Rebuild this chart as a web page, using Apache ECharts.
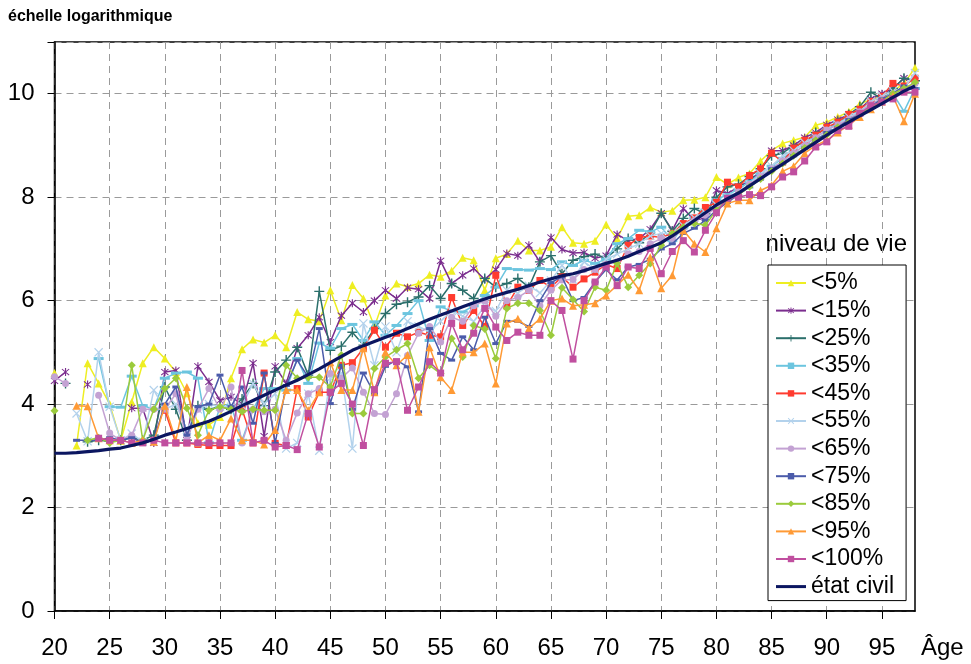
<!DOCTYPE html>
<html>
<head>
<meta charset="utf-8">
<script src="https://cdn.jsdelivr.net/npm/echarts@6/dist/echarts.min.js"></script>
<style>html,body{margin:0;padding:0;background:#fff}#c{width:971px;height:664px}</style>
</head>
<body>
<div id="c"></div>
<script>
const ages = [20,21,22,23,24,25,26,27,28,29,30,31,32,33,34,35,36,37,38,39,40,41,42,43,44,45,46,47,48,49,50,51,52,53,54,55,56,57,58,59,60,61,62,63,64,65,66,67,68,69,70,71,72,73,74,75,76,77,78,79,80,81,82,83,84,85,86,87,88,89,90,91,92,93,94,95,96,97,98];
const yTickLabels = [0,2,4,6,8,10];
const seriesNames = ['<5%','<15%','<25%','<35%','<45%','<55%','<65%','<75%','<85%','<95%','<100%','état civil'];

const p5 = [4.6,null,3.2,4.79,4.4,4.0,3.29,4.04,4.79,5.1,4.88,4.62,4.21,3.63,3.6,3.75,4.5,5.06,5.25,5.19,5.33,5.1,5.78,5.64,5.6,6.2,5.62,6.3,6.04,5.5,6.1,6.33,6.27,6.33,6.5,6.46,6.58,6.83,6.78,6.2,6.82,6.9,7.16,6.97,6.97,7.04,7.42,7.12,7.1,7.16,7.47,7.2,7.63,7.65,7.8,7.71,7.74,7.94,7.95,8.0,8.39,8.25,8.38,8.46,8.7,8.9,9.04,9.1,9.16,9.39,9.45,9.55,9.65,9.8,9.89,9.95,10.05,10.2,10.5];
const p15 = [4.45,4.62,null,4.38,null,null,null,3.92,3.92,3.25,4.62,4.65,3.3,4.73,4.43,4.07,4.14,4.0,4.79,3.38,4.73,4.4,5.08,5.33,5.68,5.2,5.71,5.95,5.78,6.0,6.2,6.04,6.25,6.22,6.04,6.77,6.33,6.49,6.62,6.41,6.6,6.91,6.87,7.07,6.75,7.22,6.99,6.92,6.93,6.82,6.87,7.28,7.16,7.2,7.38,7.69,7.36,7.78,7.55,7.6,8.13,8.07,8.2,8.32,8.5,8.9,8.9,9.0,9.15,9.25,9.4,9.5,9.6,9.7,9.9,10.0,10.1,10.3,10.25];
const p25 = [null,4.4,null,3.27,3.3,3.28,3.3,3.35,3.3,3.4,4.33,3.9,3.3,3.97,3.9,3.95,3.9,4.1,4.4,3.97,4.62,4.85,5.1,4.56,6.18,5.04,5.12,5.39,5.14,5.46,5.75,5.93,5.97,6.07,6.29,6.04,6.33,6.2,6.04,6.43,6.26,6.33,6.43,6.26,6.75,6.87,6.52,6.78,6.85,6.9,6.82,7.0,7.2,7.12,7.31,7.69,7.34,7.59,7.78,7.68,8.0,8.2,8.25,8.4,8.55,8.8,8.85,9.0,9.05,9.25,9.3,9.45,9.6,9.75,10.03,9.9,10.1,10.3,10.25];
const p35 = [null,null,null,null,4.88,3.95,3.94,4.54,3.97,3.9,4.5,4.6,4.62,4.5,3.25,3.95,3.97,3.3,3.9,4.3,4.3,4.27,4.88,4.4,5.18,5.08,5.46,5.54,5.23,5.59,5.33,5.52,5.75,6.0,5.23,5.88,5.8,5.78,5.9,6.1,6.26,6.62,6.6,6.59,6.62,6.6,6.75,6.68,6.78,6.72,6.8,7.1,7.2,7.36,7.33,7.42,7.16,7.42,7.6,7.75,7.95,8.05,8.15,8.3,8.45,8.6,8.75,8.9,9.05,9.15,9.3,9.45,9.55,9.65,9.8,9.9,10.0,9.66,10.1];
const p45 = [null,null,null,null,null,null,null,null,null,null,3.88,3.25,3.25,3.22,3.2,3.2,3.2,3.9,3.25,4.6,3.24,3.2,4.3,3.75,4.23,4.23,4.75,4.8,5.08,5.43,5.1,5.37,5.3,5.39,5.33,5.3,6.06,5.52,5.81,5.5,6.49,5.9,6.26,6.2,6.39,6.26,6.46,6.26,6.42,6.55,6.7,6.62,7.07,7.22,7.25,7.22,7.3,7.49,7.6,7.8,7.9,8.29,8.2,8.42,8.55,8.85,8.68,8.95,9.1,9.2,9.35,9.45,9.6,9.7,9.85,9.95,10.2,10.15,10.3];
const p55 = [null,null,3.82,3.28,5.0,3.95,3.3,3.43,3.27,4.27,3.9,4.0,3.5,3.9,4.0,3.95,3.95,3.97,4.4,4.0,4.2,3.14,3.25,4.2,3.1,4.5,4.6,3.14,5.56,4.75,5.5,5.0,5.6,5.5,5.4,5.6,5.8,5.7,5.6,5.9,5.8,6.2,6.15,6.29,6.15,6.39,6.68,6.4,6.75,6.6,6.8,6.9,7.0,7.1,7.25,7.3,7.3,7.45,7.6,7.7,7.85,8.0,8.1,8.25,8.45,8.6,8.8,8.9,9.05,9.15,9.3,9.4,9.55,9.65,9.85,9.95,10.05,10.1,10.4];
const p65 = [4.53,4.4,null,null,4.17,3.44,3.3,3.4,3.9,3.9,3.9,4.2,3.3,3.9,4.3,3.9,4.33,3.25,3.9,3.85,3.9,3.3,3.83,4.2,4.3,4.59,4.5,4.7,4.23,3.82,3.8,4.2,4.94,5.37,5.5,5.2,5.68,5.6,5.9,6.0,5.7,6.0,6.06,6.2,5.9,6.2,6.4,6.41,6.6,6.6,6.7,6.75,6.9,6.95,7.1,7.2,7.2,7.4,7.55,7.65,7.8,7.95,8.1,8.25,8.4,8.55,8.7,8.85,9.0,9.15,9.3,9.4,9.5,9.65,9.8,9.9,10.0,10.1,10.2];
const p75 = [null,null,3.3,3.3,3.3,3.35,3.3,3.35,3.25,3.3,4.0,4.33,3.4,3.95,4.0,4.56,3.95,4.33,3.63,4.6,3.24,4.36,4.85,4.52,5.46,4.01,4.75,3.9,4.6,4.2,4.73,4.85,4.72,3.85,5.46,4.98,4.85,5.3,5.05,5.68,5.17,5.6,5.6,5.5,6.0,6.35,6.46,6.0,6.06,6.36,6.6,6.4,6.65,6.7,6.8,7.0,7.1,7.3,7.4,7.55,7.75,7.9,8.05,8.2,8.35,8.55,8.65,8.8,8.95,9.1,9.25,9.35,9.5,9.6,9.75,9.9,10.0,10.15,10.1];
const p85 = [3.87,null,null,3.3,3.35,3.25,3.3,4.75,3.3,3.9,4.3,4.5,3.92,3.4,3.88,3.95,3.9,3.85,3.9,3.88,3.88,4.75,4.5,4.52,4.52,4.33,4.95,3.82,3.82,4.69,4.91,5.05,5.17,4.5,4.75,4.59,5.27,4.91,5.52,5.45,4.88,5.85,5.95,5.95,5.81,5.33,6.25,6.02,5.79,6.26,6.2,6.72,6.26,6.49,6.72,7.07,7.3,7.42,7.49,7.46,7.75,7.95,8.05,8.2,8.35,8.5,8.65,8.8,8.95,9.1,9.2,9.35,9.45,9.6,9.75,9.85,10.0,10.1,10.22];
const p95 = [null,null,3.97,3.96,3.34,3.3,3.3,3.25,3.3,3.27,3.97,3.3,4.33,3.25,3.4,3.3,3.72,3.3,3.3,3.22,3.5,4.27,4.27,3.88,4.23,4.81,4.27,4.27,5.08,4.23,5.0,4.75,4.95,3.85,5.1,4.52,4.27,5.0,5.0,5.17,4.4,5.56,5.65,5.46,5.65,6.0,6.04,5.9,5.92,5.95,6.1,6.3,6.5,6.2,6.84,6.24,6.49,7.36,7.1,6.94,7.4,7.88,7.94,7.94,8.13,8.23,8.5,8.6,8.85,9.0,9.1,9.25,9.4,9.55,9.7,9.85,9.95,9.47,10.0];
const p100 = [null,null,null,null,3.34,3.3,3.3,3.25,3.25,3.3,3.25,3.25,3.25,3.25,3.25,3.25,3.25,4.65,3.25,3.3,3.17,3.2,3.12,3.82,3.17,4.23,4.4,4.0,3.2,4.28,4.79,4.82,3.88,4.33,4.82,4.6,5.56,5.05,5.37,5.85,5.49,5.23,5.39,5.33,5.33,6.0,5.81,4.87,6.0,6.36,6.65,6.29,6.65,6.62,7.01,6.52,6.95,7.16,6.94,7.36,7.7,7.98,8.0,8.05,8.03,8.2,8.39,8.49,8.7,8.97,9.07,9.29,9.37,9.62,9.77,9.84,9.9,10.03,10.03];
const etatCivil = [3.05,3.05,3.06,3.08,3.10,3.13,3.15,3.20,3.25,3.32,3.40,3.46,3.53,3.60,3.67,3.76,3.86,3.97,4.07,4.17,4.27,4.37,4.46,4.57,4.68,4.80,4.92,5.04,5.13,5.21,5.29,5.37,5.46,5.55,5.64,5.72,5.80,5.88,5.96,6.03,6.10,6.16,6.22,6.29,6.36,6.42,6.48,6.52,6.58,6.65,6.72,6.78,6.86,6.95,7.03,7.12,7.25,7.40,7.55,7.70,7.85,7.97,8.08,8.22,8.36,8.50,8.64,8.78,8.92,9.06,9.20,9.33,9.45,9.57,9.69,9.81,9.93,10.05,10.15];

const STAR = 'path://M4.4,0H5.6V10H4.4Z M0.8,1.6L1.6,0.8L9.2,8.4L8.4,9.2Z M8.4,0.8L9.2,1.6L1.6,9.2L0.8,8.4Z';
const PLUS = 'path://M4.3,0H5.7V4.3H10V5.7H5.7V10H4.3V5.7H0V4.3H4.3Z';
const CROSS = 'path://M0.8,1.6L1.6,0.8L9.2,8.4L8.4,9.2Z M8.4,0.8L9.2,1.6L1.6,9.2L0.8,8.4Z';
const LINEICON = 'path://M0,0H30V3H0Z';

const styles = [
  {data:p5,   color:'#EEEE22', symbol:'triangle', size:8},
  {data:p15,  color:'#7B2D8E', symbol:STAR, size:8},
  {data:p25,  color:'#2B6F6B', symbol:PLUS, size:10},
  {data:p35,  color:'#6CC5DF', symbol:'rect', size:[10,3]},
  {data:p45,  color:'#FF3B2F', symbol:'rect', size:7},
  {data:p55,  color:'#B3D2EC', symbol:CROSS, size:9},
  {data:p65,  color:'#C3A2D3', symbol:'circle', size:7},
  {data:p75,  color:'#4B5BAA', symbol:'rect', size:[7,3]},
  {data:p85,  color:'#9BCB3C', symbol:'diamond', size:8},
  {data:p95,  color:'#FF9A35', symbol:'triangle', size:8},
  {data:p100, color:'#C04F9F', symbol:'rect', size:7}
];

const series = styles.map((s, i) => ({
  name: seriesNames[i],
  type: 'line',
  data: s.data,
  symbol: s.symbol,
  symbolSize: s.size,
  showAllSymbol: true,
  connectNulls: false,
  lineStyle: {color: s.color, width: 1.5},
  itemStyle: {color: s.color, borderWidth: 0},
  emphasis: {disabled: true},
  z: 2 + i
}));
series.push({
  name: seriesNames[11],
  type: 'line',
  data: etatCivil,
  symbol: 'none',
  lineStyle: {color: '#0B1660', width: 3.2},
  itemStyle: {color: '#0B1660'},
  emphasis: {disabled: true},
  z: 20
});

const legendData = seriesNames.map((n, i) => i === 11 ? {name: n, icon: LINEICON} : {name: n});
const every5 = (idx, val) => Number(val) % 5 === 0;

const chart = echarts.init(document.getElementById('c'), null, {renderer: 'canvas'});
chart.setOption({
  animation: false,
  backgroundColor: '#fff',
  textStyle: {fontFamily: 'Liberation Sans, Arial, sans-serif'},
  grid: {left: 54.5, right: 56, top: 42, bottom: 53, show: true, borderColor: '#000', borderWidth: 1.5, backgroundColor: 'transparent'},
  xAxis: {
    type: 'category',
    data: ages.map(String),
    boundaryGap: false,
    axisLine: {lineStyle: {color: '#000', width: 1.5}},
    axisTick: {show: true, interval: every5, length: 8, lineStyle: {color: '#000', width: 1}},
    axisLabel: {interval: every5, fontSize: 24, color: '#000', margin: 25, fontFamily: 'Liberation Sans, Arial, sans-serif'},
    splitLine: {show: true, interval: every5, lineStyle: {color: '#9a9a9a', width: 1, type: [7, 5]}}
  },
  yAxis: {
    type: 'value',
    min: 0, max: 11, interval: 2,
    axisLine: {show: true, lineStyle: {color: '#000', width: 1.5}},
    axisTick: {show: true, length: 7, lineStyle: {color: '#000', width: 1}},
    axisLabel: {fontSize: 24, color: '#000', margin: 20, fontFamily: 'Liberation Sans, Arial, sans-serif',
      formatter: v => (yTickLabels.indexOf(v) >= 0 ? String(v) : '')},
    splitLine: {show: true, lineStyle: {color: '#9a9a9a', width: 1, type: [7, 5]}}
  },
  legend: {
    orient: 'vertical',
    left: 768, top: 265,
    padding: [6, 12, 2, 7],
    itemWidth: 30, itemHeight: 8, itemGap: 3.6,
    selectedMode: false,
    borderColor: '#000', borderWidth: 1,
    backgroundColor: '#fff',
    textStyle: {fontSize: 23, color: '#000', lineHeight: 24, fontFamily: 'Liberation Sans, Arial, sans-serif'},
    data: legendData
  },
  graphic: [
    {type: 'text', left: 8, top: 9, style: {text: 'échelle logarithmique', font: 'bold 16px "Liberation Sans", Arial, sans-serif', fill: '#000'}},
    {type: 'text', right: 64, top: 232, style: {text: 'niveau de vie', font: '24px "Liberation Sans", Arial, sans-serif', fill: '#000'}},
    {type: 'text', left: 921, top: 636, style: {text: 'Âge', font: '24px "Liberation Sans", Arial, sans-serif', fill: '#000'}}
  ],
  series: series
});
</script>
</body>
</html>
